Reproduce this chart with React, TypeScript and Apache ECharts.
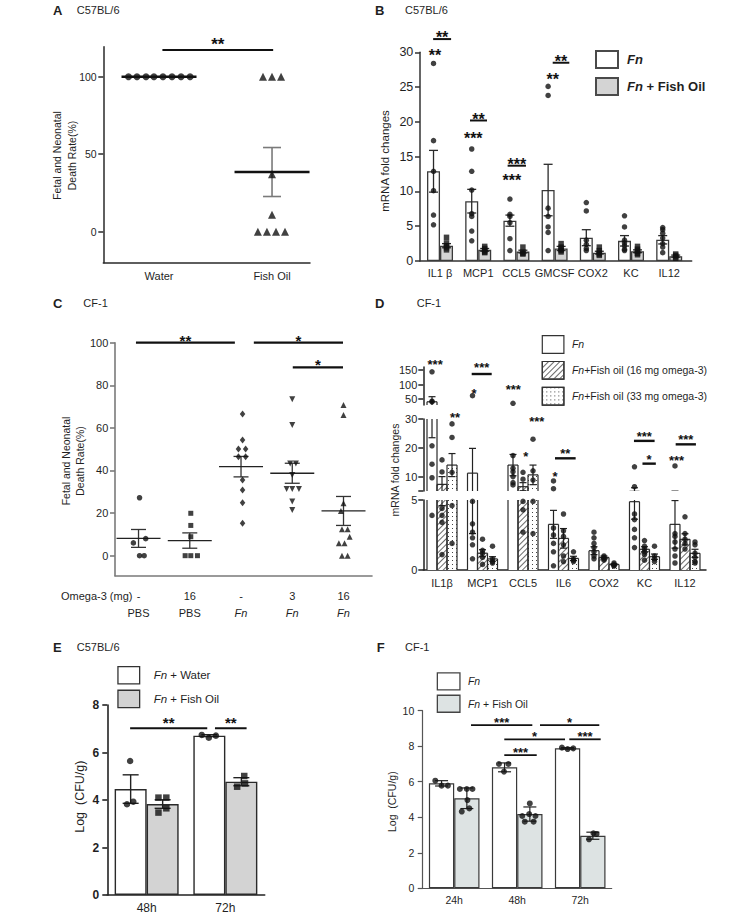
import React, { useEffect, useRef } from 'react';
import * as echarts from 'echarts';

const FONT = '"Liberation Sans", Arial, Helvetica, sans-serif';
const INK = '#1f1f1f';

type Sig = { x1: number; x2: number; y: number; t: string };

/* ================= Panel A ================= */
const aCategories = ['Water', 'Fish Oil'];
const aWaterValues = [100, 100, 100, 100, 100, 100, 100, 100];
const aWaterX = [-0.27, -0.195, -0.115, -0.045, 0.035, 0.115, 0.195, 0.275];
const aFishValues = [100, 100, 100, 37, 11, 0, 0, 0, 0];
const aFishX = [0.92, 1.0, 1.08, 1.0, 1.0, 0.875, 0.955, 1.035, 1.115];
const aMeans = [100, 38.5];
const aSems = [0, 15.8];
const aYTicks = [0, 50, 100];
const aSig: Sig[] = [{ x1: 0.03, x2: 1.01, y: 117.2, t: '**' }];

/* ================= Panel B ================= */
const bCategories = ['IL1 β', 'MCP1', 'CCL5', 'GMCSF', 'COX2', 'KC', 'IL12'];
const bFnMeans = [12.9, 8.6, 5.8, 10.2, 3.35, 2.9, 3.05];
const bFnSems = [3.0, 1.7, 0.8, 3.7, 1.15, 0.75, 0.6];
const bFoMeans = [2.2, 1.6, 1.35, 1.8, 1.2, 1.4, 0.7];
const bFoSems = [0.3, 0.2, 0.2, 0.3, 0.2, 0.2, 0.15];
const bFnDots = [
  [28.4, 17.3, 12.9, 10.1, 6.6, 5.2],
  [16.1, 12.9, 10.2, 6.8, 6.4, 4.3, 2.9],
  [8.9, 6.7, 6.4, 5.5, 3.2, 1.5],
  [25.1, 23.8, 7.6, 6.4, 4.9, 4.1, 1.5],
  [8.4, 7.2, 3.0, 2.4, 1.8, 1.5],
  [6.5, 4.9, 3.0, 2.6, 2.2, 1.7, 1.5],
  [4.8, 4.5, 4.0, 3.3, 2.5, 2.0, 1.2],
];
const bFoDots = [
  [3.4, 2.6, 2.2, 1.9, 1.6],
  [2.1, 1.8, 1.5, 1.3, 1.2],
  [2.0, 1.3, 1.1, 1.0],
  [2.5, 2.0, 1.7, 1.5, 1.3],
  [2.0, 1.5, 1.2, 1.0, 0.8],
  [2.1, 1.7, 1.4, 1.1, 0.9],
  [1.0, 0.8, 0.6, 0.4],
];
const bSig: Sig[] = [
  { x1: -0.13, x2: -0.13, y: 30.0, t: '**' },
  { x1: -0.18, x2: 0.29, y: 31.9, t: '**' },
  { x1: 0.87, x2: 0.87, y: 18.1, t: '***' },
  { x1: 0.785, x2: 1.23, y: 20.2, t: '**' },
  { x1: 1.88, x2: 1.88, y: 12.1, t: '***' },
  { x1: 1.77, x2: 2.25, y: 13.7, t: '***' },
  { x1: 2.95, x2: 2.95, y: 26.6, t: '**' },
  { x1: 2.95, x2: 3.385, y: 28.5, t: '**' },
];

/* ================= Panel C ================= */
const cOmega = ['-', '16', '-', '3', '16'];
const cGroup = ['PBS', 'PBS', 'Fn', 'Fn', 'Fn'];
const cPbsValues = [27.2, 6.0, 8.0, 0, 0];
const cPbsX = [0.02, -0.1, 0.14, 0.02, 0.11];
const cPbs16Values = [19.9, 14.2, 8.9, 0, 0, 0];
const cPbs16X = [1.02, 1.02, 1.02, 0.91, 1.02, 1.15];
const cFnValues = [66.5, 54.3, 50.1, 50.1, 46.5, 46.5, 35.5, 30.8, 24.9, 15.2];
const cFnX = [2.03, 2.03, 1.95, 2.09, 1.95, 2.09, 2.03, 2.03, 2.03, 2.03];
const cFn3Values = [73.4, 61.3, 43.3, 43.3, 37.9, 31.3, 31.3, 31.3, 25.4, 21.4];
const cFn3X = [3.0, 3.0, 2.96, 3.07, 3.0, 2.89, 3.0, 3.13, 3.0, 3.0];
const cFn16Values = [70.7, 66.0, 24.6, 21.0, 12.4, 12.4, 8.9, 5.8, 5.8, 0, 0];
const cFn16X = [4.0, 4.0, 4.0, 3.95, 3.97, 4.08, 4.12, 3.91, 4.02, 3.97, 4.08];
const cMeans = [8.1, 7.1, 41.8, 38.7, 21.0];
const cSems = [4.2, 3.6, 4.8, 4.7, 6.8];
const cYTicks = [0, 20, 40, 60, 80, 100];
const cSig: Sig[] = [
  { x1: -0.05, x2: 1.88, y: 100, t: '**' },
  { x1: 2.25, x2: 3.99, y: 100, t: '*' },
  { x1: 3.01, x2: 3.99, y: 88.45, t: '*' },
];

/* ================= Panel D ================= */
const dCategories = ['IL1β', 'MCP1', 'CCL5', 'IL6', 'COX2', 'KC', 'IL12'];
const dFnMeans = [41, 11.2, 14.0, 3.26, 1.38, 4.88, 3.26];
const dFnSems = [17.5, 8.6, 3.7, 1.0, 0.28, 1.25, 1.7];
const d16Means = [7.3, 1.2, 6.5, 2.26, 0.9, 1.48, 2.19];
const d16Sems = [2.7, 0.25, 1.4, 0.7, 0.1, 0.18, 0.4];
const d33Means = [14.0, 0.79, 10.6, 0.83, 0.4, 0.95, 1.19];
const d33Sems = [4.0, 0.16, 3.4, 0.15, 0.05, 0.19, 0.29];
const dFnDots = [
  [144, 43, 41, 20.7, 14.3, 9.6, 3.9],
  [62, 4.9, 3.3, 2.7, 2.3, 1.8, 0.8],
  [35.8, 17.3, 12.9, 11.7, 10.0, 7.9, 7.1],
  [8.5, 5.8, 3.0, 2.5, 1.9, 1.3, 0.3],
  [2.7, 2.3, 1.9, 1.6, 1.3, 1.0, 0.8],
  [13.4, 6.5, 4.0, 3.6, 2.9, 2.3, 1.6],
  [13.7, 2.6, 2.4, 2.0, 1.5, 1.0, 0.5],
];
const d16Dots = [
  [15.8, 11.6, 4.4, 3.9, 3.4, 1.1],
  [2.2, 1.4, 1.2, 0.9, 0.4],
  [11.5, 9.1, 4.9, 4.3, 2.7],
  [4.0, 2.8, 2.4, 1.8, 1.0, 0.6],
  [1.0, 0.9, 0.8, 0.7],
  [2.1, 1.7, 1.5, 1.3, 1.1, 0.7],
  [3.8, 2.6, 2.2, 1.9, 1.5],
];
const d33Dots = [
  [28.3, 23.6, 11.5, 4.6, 1.9],
  [1.7, 0.8, 0.6, 0.5],
  [23, 12, 8.8, 4.9, 2.6],
  [1.3, 0.8, 0.7, 0.6],
  [0.5, 0.4, 0.3, 0.3],
  [1.7, 1.0, 0.8, 0.6],
  [2.0, 1.8, 1.2, 0.9, 0.6, 0.5],
];
const dTopTicks = [50, 100, 150];
const dMidTicks = [10, 20, 30];
const dMidTickMarks = [5, 10, 20, 30];
const dBotTicks = [0, 5];
const dSigTop: Sig[] = [
  { x1: -0.17, x2: -0.17, y: 178, t: '***' },
  { x1: 0.733, x2: 1.227, y: 136.3, t: '***' },
  { x1: 0.79, x2: 0.79, y: 81.4, t: '*' },
  { x1: 1.76, x2: 1.76, y: 95, t: '***' },
];
const dSigMid: Sig[] = [
  { x1: 0.32, x2: 0.32, y: 31.7, t: '**' },
  { x1: 2.07, x2: 2.07, y: 18.1, t: '*' },
  { x1: 2.34, x2: 2.34, y: 30.2, t: '***' },
  { x1: 2.79, x2: 2.79, y: 11.1, t: '*' },
  { x1: 2.79, x2: 3.3, y: 16.35, t: '**' },
  { x1: 4.74, x2: 5.25, y: 22.4, t: '***' },
  { x1: 4.95, x2: 5.28, y: 14.5, t: '*' },
  { x1: 5.77, x2: 6.27, y: 21.2, t: '***' },
  { x1: 5.79, x2: 5.79, y: 16.8, t: '***' },
];

/* ================= Panel E ================= */
const eCategories = ['48h', '72h'];
const eWaterMeans = [4.46, 6.71];
const eWaterSems = [0.6, 0.04];
const eFishMeans = [3.83, 4.77];
const eFishSems = [0.18, 0.17];
const eWaterDotValues = [5.64, 3.82, 3.93, 6.74, 6.62, 6.71];
const eWaterDotX = [-0.21, -0.25, -0.17, 0.7, 0.79, 0.88];
const eFishDotValues = [4.1, 4.1, 3.47, 3.65, 4.56, 5.01, 4.7];
const eFishDotX = [0.15, 0.25, 0.15, 0.25, 1.15, 1.24, 1.25];
const eSig: Sig[] = [
  { x1: -0.21, x2: 0.77, y: 7.02, t: '**' },
  { x1: 0.868, x2: 1.27, y: 7.02, t: '**' },
];

/* ================= Panel F ================= */
const fCategories = ['24h', '48h', '72h'];
const fFnMeans = [5.91, 6.81, 7.88];
const fFnSems = [0.15, 0.25, 0.04];
const fFoMeans = [5.07, 4.18, 2.96];
const fFoSems = [0.58, 0.4, 0.2];
const fFnDotValues = [6.06, 5.78, 5.78, 7.0, 7.0, 6.57, 7.92, 7.84, 7.88];
const fFnDotX = [-0.3, -0.2, -0.1, 0.71, 0.86, 0.79, 1.71, 1.8, 1.89];
const fFoDotValues = [5.59, 5.59, 5.59, 4.97, 4.32, 4.5, 4.78, 4.07, 4.18, 4.07, 3.75, 3.75, 2.76, 3.1, 3.06];
const fFoDotX = [0.09, 0.2, 0.29, 0.21, 0.12, 0.24, 1.2, 1.08, 1.19, 1.29, 1.12, 1.26, 2.14, 2.21, 2.26];
const fSig: Sig[] = [
  { x1: 0.267, x2: 1.24, y: 9.19, t: '***' },
  { x1: 1.362, x2: 2.303, y: 9.19, t: '*' },
  { x1: 0.795, x2: 1.759, y: 8.39, t: '*' },
  { x1: 1.827, x2: 2.325, y: 8.39, t: '***' },
  { x1: 0.795, x2: 1.31, y: 7.5, t: '***' },
];

/* ================= helpers ================= */
const pairs = (xs: number[], ys: number[]) => ys.map((y, i) => [xs[i], y]);
const groupDots = (groups: number[][], shift: number) => {
  const out: number[][] = [];
  groups.forEach((g, i) => g.forEach((v) => out.push([i + shift, v])));
  return out;
};
const meanSem = (means: number[], sems: number[]) => means.map((m, i) => [i, m, sems[i]]);
const barData = (means: number[]) => means.map((m, i) => [i, m]);

function errRender(offsetPx: number, cap: number, color: string, lw: number) {
  return (_p: any, api: any) => {
    const x = api.value(0);
    const m = api.value(1);
    const s = api.value(2);
    const top = api.coord([x, m + s]);
    const bot = api.coord([x, m - s]);
    const cx = top[0] + offsetPx;
    const style = { stroke: color, lineWidth: lw };
    return {
      type: 'group',
      children: [
        { type: 'line', shape: { x1: cx, y1: top[1], x2: cx, y2: bot[1] }, style },
        { type: 'line', shape: { x1: cx - cap, y1: top[1], x2: cx + cap, y2: top[1] }, style },
        { type: 'line', shape: { x1: cx - cap, y1: bot[1], x2: cx + cap, y2: bot[1] }, style },
      ],
    };
  };
}

// open bar outline (sides + top) so that bars cut by the axis break stay open
function outlineRender(offsetPx: number, half: number, color: string, lw: number) {
  return (_p: any, api: any) => {
    const x = api.value(0);
    const m = api.value(1);
    const base = api.coord([x, 0]);
    const top = api.coord([x, m]);
    const cx = top[0] + offsetPx;
    const style = { stroke: color, lineWidth: lw };
    return {
      type: 'group',
      children: [
        { type: 'line', shape: { x1: cx - half, y1: base[1], x2: cx - half, y2: top[1] }, style },
        { type: 'line', shape: { x1: cx + half, y1: base[1], x2: cx + half, y2: top[1] }, style },
        { type: 'line', shape: { x1: cx - half, y1: top[1], x2: cx + half, y2: top[1] }, style },
      ],
    };
  };
}

function meanRender(half: number, cap: number, mColor: string, mW: number, eColor: string, eW: number) {
  return (_p: any, api: any) => {
    const x = api.value(0);
    const m = api.value(1);
    const s = api.value(2);
    const c = api.coord([x, m]);
    const top = api.coord([x, m + s]);
    const bot = api.coord([x, m - s]);
    const es = { stroke: eColor, lineWidth: eW };
    const children: any[] = [];
    if (s > 0) {
      children.push({ type: 'line', shape: { x1: c[0], y1: top[1], x2: c[0], y2: bot[1] }, style: es });
      children.push({ type: 'line', shape: { x1: c[0] - cap, y1: top[1], x2: c[0] + cap, y2: top[1] }, style: es });
      children.push({ type: 'line', shape: { x1: c[0] - cap, y1: bot[1], x2: c[0] + cap, y2: bot[1] }, style: es });
    }
    children.push({ type: 'line', shape: { x1: c[0] - half, y1: c[1], x2: c[0] + half, y2: c[1] }, style: { stroke: mColor, lineWidth: mW } });
    return { type: 'group', children };
  };
}

function sigRender(items: Sig[], fs: number, gap: number, lw: number) {
  return (p: any, api: any) => {
    const it = items[p.dataIndex];
    const a = api.coord([it.x1, it.y]);
    const b = api.coord([it.x2, it.y]);
    const children: any[] = [];
    const hasLine = it.x2 !== it.x1;
    if (hasLine) {
      children.push({ type: 'line', shape: { x1: a[0], y1: a[1], x2: b[0], y2: b[1] }, style: { stroke: '#111', lineWidth: lw } });
    }
    children.push({
      type: 'text',
      x: (a[0] + b[0]) / 2,
      y: a[1] - (hasLine ? gap : 0) + 0.23 * fs,
      style: {
        text: it.t, fill: '#111', fontSize: fs, fontWeight: 'bold', fontFamily: FONT,
        align: 'center', verticalAlign: 'middle', textAlign: 'center', textVerticalAlign: 'middle',
      },
    });
    return { type: 'group', children };
  };
}

const custom = (xi: number, yi: number, data: any[], renderItem: any, z: number, clip = false) => ({
  type: 'custom', xAxisIndex: xi, yAxisIndex: yi, data, renderItem, z, clip, silent: true,
  dimensions: ['x', 'y', 's'], encode: { x: 0, y: 1 },
});
const sigSeries = (xi: number, yi: number, items: Sig[], fs: number, gap: number, lw: number) =>
  custom(xi, yi, items.map((s) => [s.x1, s.y, 0]), sigRender(items, fs, gap, lw), 8, false);
const dots = (xi: number, yi: number, data: number[][], symbol: string, size: any, extra: any = {}) => ({
  type: 'scatter', xAxisIndex: xi, yAxisIndex: yi, data, symbol, symbolSize: size,
  itemStyle: { color: '#111' }, silent: true, z: 6, ...extra,
});
const bars = (name: string, xi: number, yi: number, data: any[], fill: string, width: number, border: string, bw: number, decal?: any) => ({
  type: 'bar', name, xAxisIndex: xi, yAxisIndex: yi, data, barWidth: width, barGap: '0%',
  itemStyle: { color: fill, borderColor: border, borderWidth: bw, ...(decal ? { decal } : {}) },
  silent: true, z: 2, emphasis: { disabled: true },
});

const lab = (fs: number, margin: number, bold = false, extra: any = {}) => ({
  color: INK, fontSize: fs, fontFamily: FONT, fontWeight: bold ? 'bold' : 'normal', margin, ...extra,
});

function yAxis(gi: number, min: number, max: number, ticks: number[] | null, interval: number | null,
  color: string, lw: number, fs: number, margin: number, bold = false, tickMarks?: number[]) {
  const marks = tickMarks || ticks;
  return {
    type: 'value', gridIndex: gi, min, max,
    ...(interval ? { interval } : {}),
    axisLine: { show: true, onZero: false, lineStyle: { color, width: lw } },
    axisTick: { show: true, length: 5, lineStyle: { color, width: lw }, ...(marks ? { customValues: marks } : {}) },
    axisLabel: lab(fs, margin, bold, ticks ? { customValues: ticks } : {}),
    splitLine: { show: false },
  };
}

function xValAxis(gi: number, min: number, max: number, show: boolean, color: string, lw: number, label: any) {
  return {
    type: 'value', gridIndex: gi, min, max, show,
    axisLine: { show, onZero: false, lineStyle: { color, width: lw } },
    axisTick: { show: false },
    splitLine: { show: false },
    axisLabel: label || { show: false },
  };
}

const hatchDecal = {
  symbol: 'rect', symbolSize: 1, dashArrayX: [1, 0], dashArrayY: [1, 2.6],
  rotation: -Math.PI / 4, color: '#6a6a6a',
};
const dotDecal = {
  symbol: 'rect', symbolSize: 1, dashArrayX: [1, 3], dashArrayY: [1, 3],
  rotation: 0, color: '#444',
};

function txt(text: string, x: number, y: number, fs: number, o: any = {}) {
  return {
    type: 'text', x, y, rotation: o.rot || 0, silent: true,
    style: {
      text, fontSize: fs, fontFamily: FONT, fontWeight: o.bold ? 'bold' : 'normal', fill: INK,
      align: o.align || 'left', verticalAlign: 'middle', textAlign: o.align || 'left', textVerticalAlign: 'middle',
      lineHeight: o.lh || fs * 1.2,
    },
  };
}

function legend(left: number, top: number, names: string[], labels: Record<string, string[]>,
  w: number, h: number, gap: number, fs: number, bold: boolean, border: string, bw: number, pad: number) {
  const fw = bold ? 'bold' : 'normal';
  return {
    left, top, orient: 'vertical', icon: 'rect', itemWidth: w, itemHeight: h, itemGap: gap,
    selectedMode: false, data: names,
    itemStyle: { borderColor: border, borderWidth: bw },
    formatter: (n: string) => `{i|${labels[n][0]}}{n|${labels[n][1]}}`,
    textStyle: {
      color: INK, fontSize: fs, fontFamily: FONT, fontWeight: fw,
      rich: {
        i: { fontStyle: 'italic', fontWeight: fw, fontSize: fs, fontFamily: FONT, color: INK, padding: [0, 0, 0, pad] },
        n: { fontWeight: fw, fontSize: fs, fontFamily: FONT, color: INK },
      },
    },
  };
}

function buildOption() {
  const grids = [
    { left: 103.3, top: 46.7, width: 206.7, height: 216 },      // A
    { left: 420, top: 52.3, width: 271.7, height: 208.7 },      // B
    { left: 115, top: 342.7, width: 257, height: 233 },         // C
    { left: 423.3, top: 367.1, width: 282.7, height: 37.9 },    // D top
    { left: 423.3, top: 419, width: 282.7, height: 72 },        // D mid
    { left: 423.3, top: 500, width: 282.7, height: 70 },        // D bottom
    { left: 107.3, top: 705, width: 157.4, height: 190 },       // E
    { left: 422.7, top: 710.7, width: 189, height: 177.6 },     // F
  ].map((g) => ({ ...g, containLabel: false, outerBoundsMode: 'none' }));

  const cRich = {
    n: { fontSize: 11, fontFamily: FONT, color: INK, lineHeight: 17.6 },
    i: { fontSize: 11, fontFamily: FONT, color: INK, lineHeight: 17.6, fontStyle: 'italic' },
  };

  const xAxes = [
    xValAxis(0, -0.493, 1.336, true, '#2a2a2a', 1.5, lab(11, 7.8, false, { customValues: [0, 1], formatter: (v: number) => aCategories[Math.round(v)] })),
    xValAxis(1, -0.524, 6.589, true, '#333', 1.5, lab(11, 6.8, false, { customValues: [0, 1, 2, 3, 4, 5, 6], formatter: (v: number) => bCategories[Math.round(v)] })),
    xValAxis(2, -0.459, 4.556, true, '#7a7a7a', 1.6, {
      ...lab(11, 11.2, false, { customValues: [0, 1, 2, 3, 4] }),
      formatter: (v: number) => {
        const i = Math.round(v);
        const g = cGroup[i] === 'Fn' ? `{i|${cGroup[i]}}` : `{n|${cGroup[i]}}`;
        return `{n|${cOmega[i]}}\n${g}`;
      },
      rich: cRich,
    }),
    xValAxis(3, -0.462, 6.519, false, '#222', 1.5, null),
    xValAxis(4, -0.462, 6.519, false, '#222', 1.5, null),
    xValAxis(5, -0.462, 6.519, true, '#222', 1.5, lab(11, 7.8, false, { customValues: [0, 1, 2, 3, 4, 5, 6], formatter: (v: number) => dCategories[Math.round(v)] })),
    {
      type: 'category', gridIndex: 6, data: eCategories, boundaryGap: true,
      axisLine: { show: true, onZero: false, lineStyle: { color: '#222', width: 1.6 } },
      axisTick: { show: false }, splitLine: { show: false }, axisLabel: lab(12, 7.3),
    },
    xValAxis(6, -0.5, 1.5, false, '#222', 1, null),
    {
      type: 'category', gridIndex: 7, data: fCategories, boundaryGap: true,
      axisLine: { show: true, onZero: false, lineStyle: { color: '#555', width: 1.2 } },
      axisTick: { show: false }, splitLine: { show: false }, axisLabel: lab(10.5, 5.8),
    },
    xValAxis(7, -0.5, 2.5, false, '#555', 1, null),
  ];

  const yAxes = [
    yAxis(0, -20, 119.35, aYTicks, null, '#2a2a2a', 1.5, 10.5, 6.6),
    yAxis(1, 0, 30, null, 5, '#333', 1.5, 12.5, 6.7),
    yAxis(2, -9.4, 100, cYTicks, null, '#7a7a7a', 1.6, 11, 6.7),
    yAxis(3, 30, 160, dTopTicks, null, '#222', 1.5, 11, 6),
    yAxis(4, 5, 30, dMidTicks, null, '#222', 1.5, 11, 6, false, dMidTickMarks),
    yAxis(5, 0, 5, dBotTicks, null, '#222', 1.5, 11, 6),
    yAxis(6, 0, 8, null, 2, '#222', 1.6, 12, 8, true),
    yAxis(7, 0, 10, null, 2, '#555', 1.2, 10.5, 8.4),
  ];

  const series: any[] = [];

  // ---- A
  series.push(custom(0, 0, meanSem(aMeans, aSems), meanRender(37.5, 9, '#111', 2.4, '#7a7a7a', 1.6), 4));
  series.push(dots(0, 0, pairs(aWaterX, aWaterValues), 'circle', 7));
  series.push(dots(0, 0, pairs(aFishX, aFishValues), 'triangle', 8));
  series.push(sigSeries(0, 0, aSig, 17, 9, 2));

  // ---- B
  series.push(bars('B-Fn', 1, 1, barData(bFnMeans), '#ffffff', 13, '#3a3a3a', 1.3));
  series.push(bars('B-FO', 1, 1, barData(bFoMeans), '#d4d4d4', 13, '#3a3a3a', 1.3));
  series.push(custom(1, 1, meanSem(bFnMeans, bFnSems), errRender(-6.5, 4.5, '#2a2a2a', 1.3), 4));
  series.push(custom(1, 1, meanSem(bFoMeans, bFoSems), errRender(6.5, 4.5, '#2a2a2a', 1.3), 4));
  series.push(dots(1, 1, groupDots(bFnDots, -0.17), 'circle', 5.5));
  series.push(dots(1, 1, groupDots(bFoDots, 0.17), 'rect', 5.5));
  series.push(sigSeries(1, 1, bSig, 16, 5, 2));

  // ---- C
  series.push(custom(2, 2, meanSem(cMeans, cSems), meanRender(22, 7.5, '#222', 1.3, '#333', 1.3), 4));
  series.push(dots(2, 2, pairs(cPbsX, cPbsValues), 'circle', 5.5));
  series.push(dots(2, 2, pairs(cPbs16X, cPbs16Values), 'rect', 5));
  series.push(dots(2, 2, pairs(cFnX, cFnValues), 'diamond', [5.5, 7]));
  series.push(dots(2, 2, pairs(cFn3X, cFn3Values), 'triangle', 6, { symbolRotate: 180 }));
  series.push(dots(2, 2, pairs(cFn16X, cFn16Values), 'triangle', 6));
  series.push(sigSeries(2, 2, cSig, 15, 6, 2.2));

  // ---- D (three stacked segments of a broken axis)
  [3, 4, 5].forEach((k) => {
    series.push(bars('D-Fn', k, k, barData(dFnMeans), '#ffffff', 10, '#2a2a2a', 0));
    series.push(bars('D-16', k, k, barData(d16Means), '#ffffff', 10, '#2a2a2a', 0, hatchDecal));
    series.push(bars('D-33', k, k, barData(d33Means), '#ffffff', 10, '#2a2a2a', 0, dotDecal));
    series.push(custom(k, k, barData(dFnMeans), outlineRender(-10, 5, '#2a2a2a', 1.2), 3, true));
    series.push(custom(k, k, barData(d16Means), outlineRender(0, 5, '#2a2a2a', 1.2), 3, true));
    series.push(custom(k, k, barData(d33Means), outlineRender(10, 5, '#2a2a2a', 1.2), 3, true));
    series.push(custom(k, k, meanSem(dFnMeans, dFnSems), errRender(-10, 3.5, '#222', 1.2), 4, true));
    series.push(custom(k, k, meanSem(d16Means, d16Sems), errRender(0, 3.5, '#222', 1.2), 4, true));
    series.push(custom(k, k, meanSem(d33Means, d33Sems), errRender(10, 3.5, '#222', 1.2), 4, true));
    series.push(dots(k, k, groupDots(dFnDots, -0.247), 'circle', 5.5));
    series.push(dots(k, k, groupDots(d16Dots, 0), 'circle', 5.5));
    series.push(dots(k, k, groupDots(d33Dots, 0.247), 'circle', 5.5));
  });
  series.push(sigSeries(3, 3, dSigTop, 13, 9, 2.4));
  series.push(sigSeries(4, 4, dSigMid, 13, 7.5, 2.4));

  // ---- E
  series.push(bars('E-W', 6, 6, eWaterMeans, '#ffffff', 32, '#2a2a2a', 1.4));
  series.push(bars('E-FO', 6, 6, eFishMeans, '#d3d3d3', 32, '#2a2a2a', 1.4));
  series.push(custom(7, 6, meanSem(eWaterMeans, eWaterSems), errRender(-16, 8, '#222', 1.4), 4));
  series.push(custom(7, 6, meanSem(eFishMeans, eFishSems), errRender(16, 8, '#222', 1.4), 4));
  series.push(dots(7, 6, pairs(eWaterDotX, eWaterDotValues), 'circle', 6.5));
  series.push(dots(7, 6, pairs(eFishDotX, eFishDotValues), 'rect', 6.5));
  series.push(sigSeries(7, 6, eSig, 15, 9, 2));

  // ---- F
  series.push(bars('F-Fn', 8, 7, fFnMeans, '#ffffff', 25.3, '#3a3a3a', 1.2));
  series.push(bars('F-FO', 8, 7, fFoMeans, '#dde3e3', 25.3, '#3a3a3a', 1.2));
  series.push(custom(9, 7, meanSem(fFnMeans, fFnSems), errRender(-12.65, 6.5, '#222', 1.2), 4));
  series.push(custom(9, 7, meanSem(fFoMeans, fFoSems), errRender(12.65, 6.5, '#222', 1.2), 4));
  series.push(dots(9, 7, pairs(fFnDotX, fFnDotValues), 'circle', 6));
  series.push(dots(9, 7, pairs(fFoDotX, fFoDotValues), 'circle', 6));
  series.push(sigSeries(9, 7, fSig, 13, 6, 1.8));

  const legends = [
    legend(590, 45, ['B-Fn', 'B-FO'], { 'B-Fn': ['Fn', ''], 'B-FO': ['Fn', ' + Fish Oil'] }, 22, 17, 8, 13, true, '#4a4a4a', 2, 4),
    legend(536.7, 330, ['D-Fn', 'D-16', 'D-33'], {
      'D-Fn': ['Fn', ''], 'D-16': ['Fn', '+Fish oil (16 mg omega-3)'], 'D-33': ['Fn', '+Fish oil (33 mg omega-3)'],
    }, 21.6, 17.7, 7, 10.5, false, '#333', 1.2, 3),
    legend(112.3, 661, ['E-W', 'E-FO'], { 'E-W': ['Fn', ' + Water'], 'E-FO': ['Fn', ' + Fish Oil'] }, 21.7, 17.3, 5, 11.5, false, '#333', 1.3, 9),
    legend(431.7, 667.3, ['F-Fn', 'F-FO'], { 'F-Fn': ['Fn', ''], 'F-FO': ['Fn', ' + Fish Oil'] }, 22.6, 17, 4, 10.5, false, '#444', 1.3, 3),
  ];

  const graphics = [
    txt('A', 53, 10, 13, { bold: true }), txt('C57BL/6', 76.7, 10, 11),
    txt('B', 375, 10, 13, { bold: true }), txt('C57BL/6', 405, 10, 11),
    txt('C', 53, 303.3, 13, { bold: true }), txt('CF-1', 83.3, 303.3, 11),
    txt('D', 375, 303.3, 13, { bold: true }), txt('CF-1', 416.7, 303.3, 11),
    txt('E', 53, 647.3, 13, { bold: true }), txt('C57BL/6', 76.7, 647.3, 11),
    txt('F', 376.7, 647.3, 13, { bold: true }), txt('CF-1', 405, 647.3, 11),
    txt('Fetal and Neonatal\nDeath Rate(%)', 64.5, 155.5, 10.5, { rot: Math.PI / 2, align: 'center', lh: 14.5 }),
    txt('mRNA fold changes', 385, 161, 11.5, { rot: Math.PI / 2, align: 'center' }),
    txt('Fetal and Neonatal\nDeath Rate(%)', 73, 461, 10.5, { rot: Math.PI / 2, align: 'center', lh: 14.5 }),
    txt('Omega-3 (mg)', 96.7, 595.7, 11, { align: 'center' }),
    txt('mRNA fold changes', 395, 470, 10.5, { rot: Math.PI / 2, align: 'center' }),
    txt('Log  (CFU/g)', 80, 796.7, 12.5, { rot: Math.PI / 2, align: 'center' }),
    txt('Log  (CFU/g)', 391.7, 801.7, 10.5, { rot: Math.PI / 2, align: 'center' }),
  ];

  return {
    animation: false,
    backgroundColor: '#ffffff',
    textStyle: { fontFamily: FONT, color: INK },
    grid: grids,
    xAxis: xAxes,
    yAxis: yAxes,
    legend: legends,
    graphic: graphics,
    series,
    tooltip: { show: false },
  };
}

export default function App() {
  const ref = useRef<HTMLDivElement>(null);
  useEffect(() => {
    if (!ref.current) return;
    const chart = echarts.init(ref.current, null, { renderer: 'svg', width: 742, height: 918 });
    chart.setOption(buildOption() as any);
    return () => chart.dispose();
  }, []);
  return (
    <div
      ref={ref}
      style={{ position: 'absolute', left: 0, top: 0, width: 742, height: 918, background: '#fff' }}
    />
  );
}
